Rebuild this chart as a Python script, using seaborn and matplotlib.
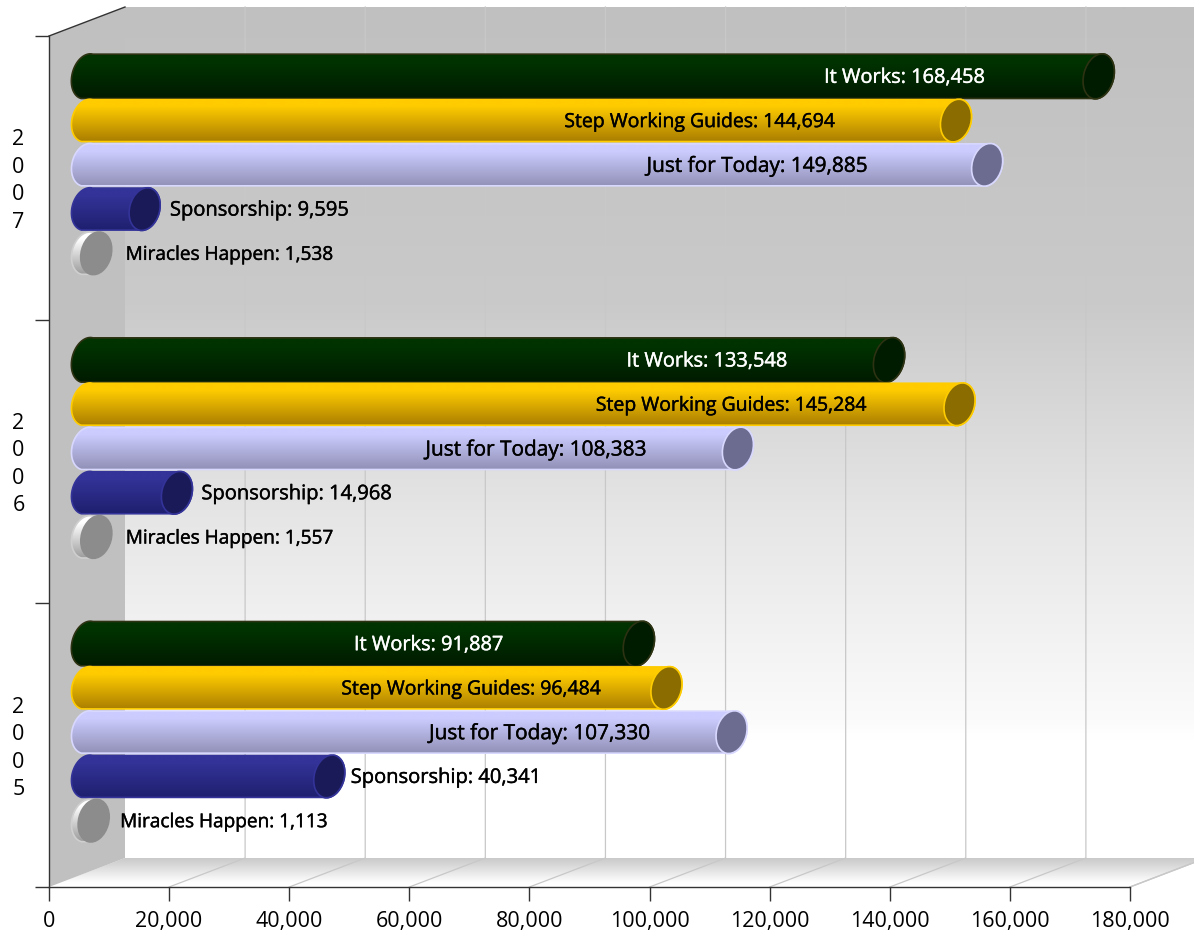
#!/usr/bin/env python3
# Book sales per year, drawn as a fake 3D horizontal cylinder chart
import matplotlib
matplotlib.use("Agg")
import matplotlib.patheffects as pe
import matplotlib.pyplot as plt
import numpy as np
import pandas as pd
import seaborn as sns
from matplotlib.patches import Ellipse, Polygon
from matplotlib.path import Path
from matplotlib.transforms import Affine2D, IdentityTransform

years = ["2007", "2006", "2005"]
titles = ["It Works", "Step Working Guides", "Just for Today", "Sponsorship", "Miracles Happen"]
it_works = [168458, 133548, 91887]
step_guides = [144694, 145284, 96484]
just_for_today = [149885, 108383, 107330]
sponsorship = [9595, 14968, 40341]
miracles = [1538, 1557, 1113]
x_ticks = [0, 20000, 40000, 60000, 80000, 100000, 120000, 140000, 160000, 180000]

# (top of gradient, bottom of gradient, outline, end cap, end cap outline)
styles = [
    ("#003300", "#001a00", "#2c3212", "#001c00", "#2c3212"),
    ("#ffcc00", "#a87c00", "#ffcc00", "#8a6c00", "#ffcc00"),
    ("#ccccff", "#8f8fb5", "#d8d8ff", "#6c6c90", "#d8d8ff"),
    ("#333399", "#1f1f6e", "#333399", "#1a1a58", "#333399"),
    ("#ffffff", "#9a9a9a", "#cfcfcf", "#8c8c8c", "#8c8c8c"),
]
text_colors = ["white", "black", "black", "black", "black"]
label_sizes = [14.4, 14.0, 15.0, 14.5, 13.7]
# label centre relative to the end cap centre, pixels
label_shift = [
    [-194, -182, -210],
    [-256, -228, -195],
    [-230, -202, -192],
    [115, 120, 117],
    [133, 133, 130],
]

DEPTH = (76, 29)  # pixels from front of the box to the back wall
FONT = "Open Sans"

plt.rcParams["font.family"] = FONT
W, H = 1194, 933
fig = plt.figure(figsize=(W / 100, H / 100), dpi=100)
ax = fig.add_axes([49 / W, (H - 887) / H, 1081 / W, 851 / H])
ax.set_facecolor("none")

df = pd.DataFrame({
    "year": years * 5,
    "value": it_works + step_guides + just_for_today + sponsorship + miracles,
    "title": [t for t in titles for _ in years],
})
sns.barplot(data=df, y="year", x="value", hue="title", order=years, hue_order=titles,
            orient="h", width=0.78, gap=0, dodge=True, legend=False,
            palette=[s[0] for s in styles], ax=ax, zorder=5)

xlim = (0, 180000)
ylim = (2.5, -0.5)
ax.set_xlim(xlim)
ax.set_ylim(ylim)


def to_rgb(c):
    return np.array(matplotlib.colors.to_rgb(c))


def gradient(stops, n=256):
    # stops: list of (position, colour) from top to bottom
    pos = [p for p, _ in stops]
    cols = np.array([to_rgb(c) for _, c in stops])
    t = np.linspace(0, 1, n)
    return np.stack([np.interp(t, pos, cols[:, i]) for i in range(3)], axis=1)[:, None, :]


def draw_gradient(img, extent, clip_path=None, zorder=1):
    im = ax.imshow(img, extent=extent, aspect="auto", transform=IdentityTransform(),
                   interpolation="bilinear", zorder=zorder)
    im.set_clip_box(fig.bbox)
    if clip_path is not None:
        im.set_clip_path(clip_path, IdentityTransform())
    return im


x0, yb = ax.transData.transform((xlim[0], ylim[0]))
x1, yt = ax.transData.transform((xlim[1], ylim[1]))
dx, dy = DEPTH

# back wall
wall = gradient([(0, "#c0c0c0"), (0.35, "#cacaca"), (0.6, "#e6e6e6"), (0.84, "#fbfbfb"), (0.86, "#ffffff"), (1, "#ffffff")])
draw_gradient(wall, (x0 + dx, W + 10, yb + dy, yt + dy), zorder=1)

# floor
floor = gradient([(0, "#c9c9c9"), (0.5, "#e8e8e8"), (0.85, "#ffffff"), (1, "#ffffff")])
floor_path = Path([(x0, yb), (x0 + dx, yb + dy), (x1 + dx, yb + dy), (x1, yb), (x0, yb)])
draw_gradient(floor, (x0, x1 + dx, yb, yb + dy), clip_path=floor_path, zorder=1)

# side wall
ax.add_patch(Polygon([(x0, yb), (x0 + dx, yb + dy), (x0 + dx, yt + dy), (x0, yt)], closed=True,
                     facecolor="#c0c0c0", edgecolor="none", transform=IdentityTransform(),
                     clip_on=False, zorder=2))

# grid on wall and floor
for v in x_ticks[1:]:
    px = ax.transData.transform((v, ylim[0]))[0]
    ax.plot([px, px + dx, px + dx], [yb, yb + dy, yt + dy], color="#c8c8c8", lw=0.9,
            transform=IdentityTransform(), clip_on=False, zorder=3)
ax.plot([x0, x0 + dx], [yt, yt + dy], color="#333333", lw=1, transform=IdentityTransform(),
        clip_on=False, zorder=3)
ax.plot([x1, x1 + dx], [yb, yb + dy], color="#c8c8c8", lw=1, transform=IdentityTransform(),
        clip_on=False, zorder=3)

# cylinders, built on the bars seaborn placed
TILT = -15
A = 15.0
half_shift = Affine2D().translate(dx / 2, dy / 2 - 1.5)
for s, container in enumerate(ax.containers):
    top, bottom, edge, cap, cap_edge = styles[s]
    for g, bar in enumerate(container):
        bar.set_transform(ax.transData + half_shift)
        bar.set_linewidth(0)
        (lx, ly0), (rx, ly1) = (ax.transData + half_shift).transform(
            [(bar.get_x(), bar.get_y()), (bar.get_x() + bar.get_width(), bar.get_y() + bar.get_height())])
        cy = (ly0 + ly1) / 2
        b = abs(ly1 - ly0) / 2 + (0.8 if s == 0 else -0.4)
        # outline: left half of an ellipse at the start, right half at the end
        c, sn = np.cos(np.radians(TILT)), np.sin(np.radians(TILT))
        t_l = np.linspace(np.pi / 2, 3 * np.pi / 2, 40)
        t_r = np.linspace(-np.pi / 2, np.pi / 2, 40)

        def rim(cx, t):
            ex, ey = A * np.cos(t), b * np.sin(t)
            return np.column_stack([cx + ex * c - ey * sn, cy + ex * sn + ey * c])

        outline = np.vstack([rim(lx, t_l), rim(rx, t_r)])
        path = Path(np.vstack([outline, outline[:1]]), closed=True)
        bar.set_clip_path(path, IdentityTransform())
        z = 5 + s * 0.1
        bar.set_zorder(z)
        draw_gradient(gradient([(0, top), (0.18, top), (1, bottom)]),
                      (lx - 30, rx + 30, cy - b, cy + b), clip_path=path, zorder=z + 0.01)
        ax.add_patch(Polygon(outline, closed=True, fill=False, edgecolor=edge, lw=1.2,
                             transform=IdentityTransform(), clip_on=False, zorder=z + 0.02))
        ax.add_patch(Ellipse((rx, cy), 2 * A, 2 * b, angle=TILT, facecolor=cap, edgecolor=cap_edge, lw=1.2,
                             transform=IdentityTransform(), clip_on=False, zorder=z + 0.03))
        label = ax.text(rx + label_shift[s][g], cy - 1.5, f"{titles[s]}: {int(bar.get_width()):,}",
                        color=text_colors[s], fontsize=label_sizes[s], ha="center", va="center",
                        fontweight="normal", transform=IdentityTransform(), clip_on=False, zorder=9)
        label.set_path_effects([pe.withStroke(linewidth=0.3, foreground=text_colors[s])])

# axes
sns.despine(ax=ax, top=True, right=True)
for side in ("left", "bottom"):
    ax.spines[side].set_color("#333333")
    ax.spines[side].set_linewidth(1)
    ax.spines[side].set_zorder(8)
ax.set_xlabel("")
ax.set_ylabel("")
ax.set_xticks(x_ticks, [f"{v:,}" for v in x_ticks], fontsize=15.5)
ax.set_yticks([-0.5, 0.5, 1.5, 2.5], ["", "", "", ""])
ax.set_yticks([0, 1, 2], ["\n".join(y) for y in years], minor=True, fontsize=15.5, linespacing=1.4, ha="center")
ax.tick_params(axis="x", length=10, width=1, color="#333333", pad=7)
ax.tick_params(axis="y", which="major", length=10, width=1, color="#333333")
ax.tick_params(axis="y", which="minor", length=0, pad=22)
ax.set_xlim(xlim)
ax.set_ylim(ylim)
for tick_label in ax.get_yticklabels(minor=True):
    tick_label.set_transform(tick_label.get_transform() + Affine2D().translate(0, 2.5))

fig.savefig("out.png", dpi=100, facecolor="white")
